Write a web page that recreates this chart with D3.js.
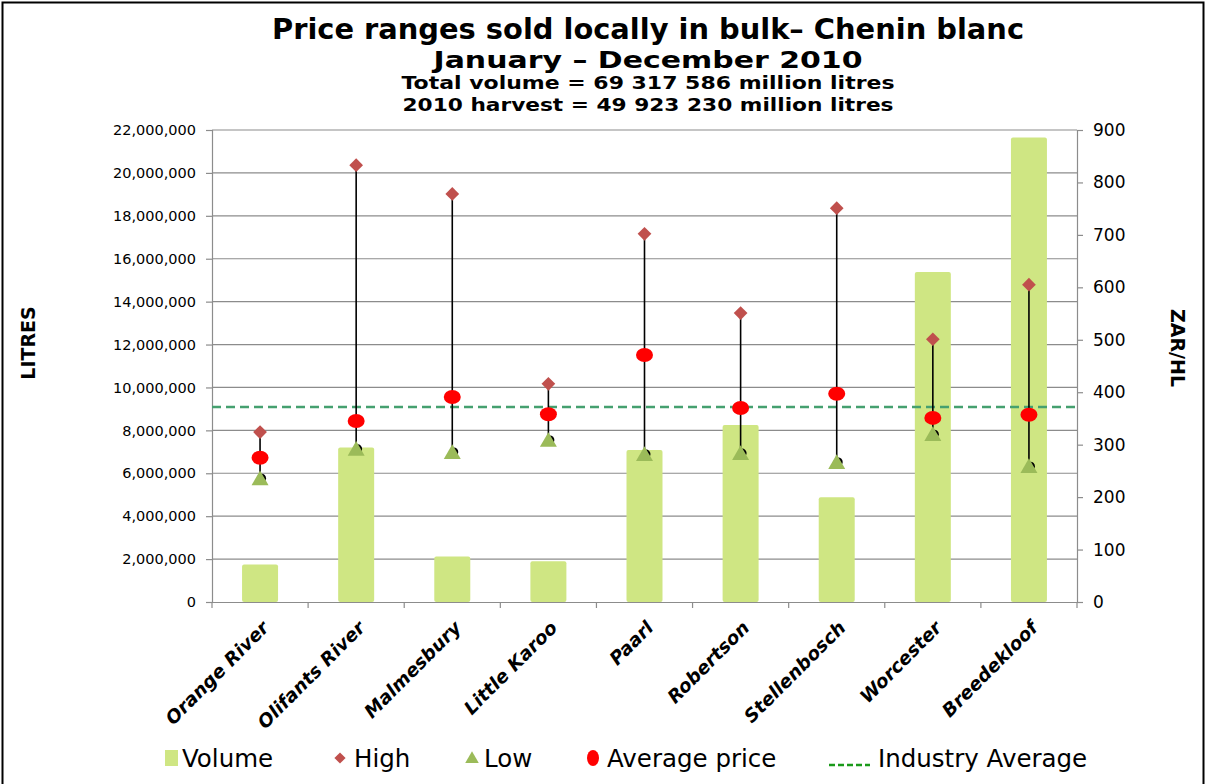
<!DOCTYPE html>
<html>
<head>
<meta charset="utf-8">
<script src="https://cdn.jsdelivr.net/npm/d3@7"></script>
<style>
  body { margin: 0; background: #fff; }
  svg text { font-family: "DejaVu Sans", Verdana, sans-serif; }
</style>
</head>
<body>
<div id="chart"></div>
<script>
// DATA ----------------------------------------------------------------------
const regions   = ["Orange River", "Olifants River", "Malmesbury", "Little Karoo", "Paarl",
                   "Robertson", "Stellenbosch", "Worcester", "Breedekloof"]
const volume    = [1750000, 7200000, 2120000, 1900000, 7080000, 8250000, 4880000, 15380000, 21650000]
const highPrice = [324, 833, 778, 416, 702, 551, 751, 501, 605]
const lowPrice  = [236, 292, 286, 309, 282, 284, 267, 320, 259]
const avgPrice  = [275, 345, 391, 358, 471, 370, 397, 351, 357]
const industryAverage = 372
const litreTicks = d3.range(0, 22000001, 2000000)
const priceTicks = d3.range(0, 901, 100)

const titleLines = [
  "Price ranges sold locally in bulk– Chenin blanc",
  "January – December 2010",
  "Total volume = 69 317 586 million litres",
  "2010 harvest = 49 923 230 million litres"
]

// SETUP ---------------------------------------------------------------------
const width = 1206, height = 784
const plot = { left: 212, right: 1077, top: 130, bottom: 602 }

const svg = d3.select("#chart").append("svg")
  .attr("width", width)
  .attr("height", height)

// outer frame
svg.append("rect")
  .attr("x", 2.5).attr("y", 2.5)
  .attr("width", width - 5).attr("height", height + 10)
  .attr("fill", "none").attr("stroke", "#000").attr("stroke-width", 2)

const x = d3.scaleBand().domain(regions).range([plot.left, plot.right])
const yL = d3.scaleLinear().domain([0, 22000000]).range([plot.bottom, plot.top])
const yR = d3.scaleLinear().domain([0, 900]).range([plot.bottom, plot.top])

// TITLES --------------------------------------------------------------------
// the original font is narrow and tall, so the lines are stretched to its widths
const titleStyle = [
  { size: 28,   y: 39,  len: 752 },
  { size: 23,   y: 68,  len: 429 },
  { size: 18.5, y: 89,  len: 493 },
  { size: 18.5, y: 111, len: 491 }
]
svg.append("g").selectAll("text")
  .data(titleLines)
  .join("text")
  .attr("x", 648)
  .attr("y", (d, i) => titleStyle[i].y)
  .attr("text-anchor", "middle")
  .attr("font-weight", "bold")
  .attr("font-size", (d, i) => titleStyle[i].size)
  .attr("textLength", (d, i) => titleStyle[i].len)
  .attr("lengthAdjust", "spacingAndGlyphs")
  .text(d => d)

// GRID + AXES ---------------------------------------------------------------
svg.append("g").selectAll("line")
  .data(litreTicks.slice(1))
  .join("line")
  .attr("x1", plot.left).attr("x2", plot.right)
  .attr("y1", d => yL(d)).attr("y2", d => yL(d))
  .attr("stroke", "#8c8c8c").attr("stroke-width", 1.2)

const axisLeft = svg.append("g")
  .attr("transform", `translate(${plot.left},0)`)
  .call(d3.axisLeft(yL).tickValues(litreTicks).tickFormat(d3.format(",")).tickSize(6).tickPadding(10))
axisLeft.selectAll("text").attr("font-size", 14.5).attr("fill", "#000")

const axisRight = svg.append("g")
  .attr("transform", `translate(${plot.right},0)`)
  .call(d3.axisRight(yR).tickValues(priceTicks).tickSize(6).tickPadding(10))
axisRight.selectAll("text").attr("font-size", 17).attr("fill", "#000")

svg.append("g")
  .attr("transform", `translate(0,${plot.bottom})`)
  .call(d3.axisBottom(x).tickSize(0).tickFormat(""))

// category boundary ticks
svg.append("g").selectAll("line")
  .data(d3.range(regions.length + 1))
  .join("line")
  .attr("x1", i => plot.left + i * x.step()).attr("x2", i => plot.left + i * x.step())
  .attr("y1", plot.bottom).attr("y2", plot.bottom + 6)
  .attr("stroke", "#8c8c8c").attr("stroke-width", 1.2)

svg.selectAll(".domain, .tick line").attr("stroke", "#8c8c8c").attr("stroke-width", 1.2)

// category labels
svg.append("g").selectAll("text")
  .data(regions)
  .join("text")
  .attr("transform", d => `translate(${x(d) + x.bandwidth() / 2 + 10},${plot.bottom + 27}) rotate(-45)`)
  .attr("text-anchor", "end")
  .attr("font-weight", "bold")
  .attr("font-style", "italic")
  .attr("font-size", 18.5)
  .text(d => d)

// axis titles
svg.append("text")
  .attr("transform", `translate(35,343) rotate(-90)`)
  .attr("text-anchor", "middle")
  .attr("font-weight", "bold").attr("font-size", 19)
  .text("LITRES")

svg.append("text")
  .attr("transform", `translate(1171,348) rotate(90)`)
  .attr("text-anchor", "middle")
  .attr("font-weight", "bold").attr("font-size", 19)
  .text("ZAR/HL")

// BARS ----------------------------------------------------------------------
const barW = 36
svg.append("g").selectAll("rect")
  .data(regions)
  .join("rect")
  .attr("x", d => x(d) + x.bandwidth() / 2 - barW / 2)
  .attr("y", (d, i) => yL(volume[i]))
  .attr("width", barW)
  .attr("height", (d, i) => plot.bottom - yL(volume[i]))
  .attr("rx", 2)
  .attr("fill", "#cfe683")

// industry average
svg.append("line")
  .attr("x1", plot.left).attr("x2", plot.right)
  .attr("y1", yR(industryAverage)).attr("y2", yR(industryAverage))
  .attr("stroke", "#45a06f").attr("stroke-width", 2.5)
  .attr("stroke-dasharray", "9,5")

// PRICE RANGES --------------------------------------------------------------
const cx = d => x(d) + x.bandwidth() / 2

svg.append("g").selectAll("line")
  .data(regions)
  .join("line")
  .attr("x1", cx).attr("x2", cx)
  .attr("y1", (d, i) => yR(highPrice[i]))
  .attr("y2", (d, i) => yR(lowPrice[i]))
  .attr("stroke", "#000").attr("stroke-width", 1.6)

// black end markers peeking out behind the low triangles
svg.append("g").selectAll("circle")
  .data(regions)
  .join("circle")
  .attr("cx", d => cx(d) + 1.5)
  .attr("cy", (d, i) => yR(lowPrice[i]))
  .attr("r", 4.5)
  .attr("fill", "#000")

const diamond = d3.symbol().type(d3.symbolDiamond2).size(120)
const triangle = d3.symbol().type(d3.symbolTriangle).size(125)

svg.append("g").selectAll("path")
  .data(regions)
  .join("path")
  .attr("transform", (d, i) => `translate(${cx(d)},${yR(highPrice[i])})`)
  .attr("d", diamond)
  .attr("fill", "#c0504d")

svg.append("g").selectAll("path")
  .data(regions)
  .join("path")
  .attr("transform", (d, i) => `translate(${cx(d)},${yR(lowPrice[i]) + 2})`)
  .attr("d", triangle)
  .attr("fill", "#9bbb59")

svg.append("g").selectAll("ellipse")
  .data(regions)
  .join("ellipse")
  .attr("cx", cx)
  .attr("cy", (d, i) => yR(avgPrice[i]))
  .attr("rx", 8.5).attr("ry", 7)
  .attr("fill", "#ff0000")

// LEGEND --------------------------------------------------------------------
const legendY = 758
const legend = svg.append("g")

legend.append("rect").attr("x", 165).attr("y", legendY - 8).attr("width", 13).attr("height", 16).attr("fill", "#cfe683")
legend.append("path").attr("transform", `translate(340,${legendY})`)
  .attr("d", d3.symbol().type(d3.symbolDiamond2).size(80)).attr("fill", "#c0504d")
legend.append("path").attr("transform", `translate(472,${legendY + 1})`)
  .attr("d", d3.symbol().type(d3.symbolTriangle).size(80)).attr("fill", "#9bbb59")
legend.append("ellipse").attr("cx", 593).attr("cy", legendY).attr("rx", 6).attr("ry", 8).attr("fill", "#ff0000")
legend.append("line").attr("x1", 829).attr("x2", 870).attr("y1", legendY + 7).attr("y2", legendY + 7)
  .attr("stroke", "#1a9a1a").attr("stroke-width", 2.5).attr("stroke-dasharray", "6,3")

const legendLabels = [
  { text: "Volume", x: 182 },
  { text: "High", x: 354 },
  { text: "Low", x: 484 },
  { text: "Average price", x: 607 },
  { text: "Industry Average", x: 878 }
]
legend.selectAll("text")
  .data(legendLabels)
  .join("text")
  .attr("x", d => d.x)
  .attr("y", legendY + 9)
  .attr("font-size", 24.5)
  .text(d => d.text)
</script>
</body>
</html>
